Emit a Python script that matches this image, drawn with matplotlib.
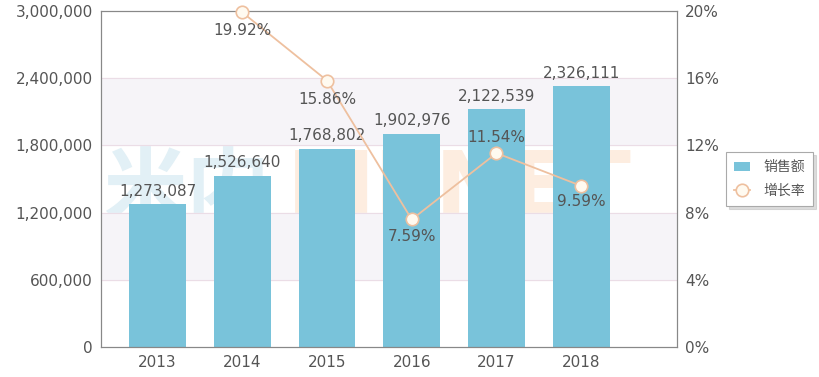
import matplotlib.pyplot as plt
from matplotlib.ticker import FuncFormatter

years = ['2013', '2014', '2015', '2016', '2017', '2018']
sales = [1273087, 1526640, 1768802, 1902976, 2122539, 2326111]
growth_years = [1, 2, 3, 4, 5]
growth = [19.92, 15.86, 7.59, 11.54, 9.59]

plt.rcParams['font.family'] = ['DejaVu Sans', 'Noto Sans CJK SC']
text_color = '#555555'
bar_color = '#79C3DA'
line_color = '#EEC09F'

fig = plt.figure(figsize=(8.2, 3.77), dpi=100)
ax = fig.add_axes([101 / 820, 30 / 377, 576 / 820, 336 / 377])
ax2 = ax.twinx()

ax.set_zorder(1)
ax2.set_zorder(2)
ax.patch.set_visible(False)

x = list(range(len(years)))
ax.set_xlim(-0.667, 6.13)
ax.set_ylim(0, 3000000)
ax2.set_ylim(0, 20)

# alternating bands and grid
for lo, hi in [(600000, 1200000), (1800000, 2400000)]:
    ax.axhspan(lo, hi, color='#F6F4F8', zorder=0)
for v in [600000, 1200000, 1800000, 2400000]:
    ax.axhline(v, color='#EBDDE6', lw=0.8, zorder=0.5)

bars = ax.bar(x, sales, width=0.67, color=bar_color, zorder=2, label='销售额')
for xi, v in zip(x, sales):
    ax.annotate(f'{v:,}', (xi, v), xytext=(0, 4), textcoords='offset points',
                ha='center', va='bottom', fontsize=11, color=text_color, zorder=3)

# faint watermark behind the bars
fig.text(270 / 820, 1 - 190 / 377, '米内', fontsize=60, color='#E2F0F6',
         ha='right', va='center', family=['Noto Sans CJK SC'], weight='bold', zorder=0.5)
fig.text(287 / 820, 1 - 190 / 377, 'MENET', fontsize=64, color='#FDEDE0',
         ha='left', va='center', weight='bold', zorder=0.5)

ax2.plot(growth_years, growth, color=line_color, lw=1.3, marker='o', ms=9,
         mfc='#FFFAF0', mec=line_color, mew=1.2, label='增长率', clip_on=False, zorder=4)
offsets = [(0, -8, 'top'), (0, -8, 'top'), (0, -7, 'top'), (0, 6, 'bottom'), (0, -6, 'top')]
for xi, v, (dx, dy, va) in zip(growth_years, growth, offsets):
    ax2.annotate(f'{v:.2f}%', (xi, v), xytext=(dx, dy), textcoords='offset points',
                 ha='center', va=va, fontsize=11, color=text_color, zorder=5)

ax.set_xticks(x)
ax.set_xticklabels(years)
ax.set_yticks([0, 600000, 1200000, 1800000, 2400000, 3000000])
ax.yaxis.set_major_formatter(FuncFormatter(lambda v, p: f'{int(v):,}'))
ax2.set_yticks([0, 4, 8, 12, 16, 20])
ax2.yaxis.set_major_formatter(FuncFormatter(lambda v, p: f'{int(v)}%'))

for a in (ax, ax2):
    for s in a.spines.values():
        s.set_color('#888888')
        s.set_linewidth(0.8)
    a.tick_params(colors=text_color, labelsize=11, length=0, pad=6)

h1, l1 = ax.get_legend_handles_labels()
h2, l2 = ax2.get_legend_handles_labels()
leg = fig.legend(h1 + h2, l1 + l2, loc='upper left', bbox_to_anchor=(726 / 820, 1 - 152 / 377),
                 fontsize=10, frameon=True, fancybox=False, edgecolor='#AAAAAA',
                 shadow={'color': '#BBBBBB', 'alpha': 0.5, 'ox': 2, 'oy': -2},
                 handlelength=1.1, handletextpad=1.0, borderpad=0.6, labelspacing=0.7,
                 borderaxespad=0)
leg.get_frame().set_linewidth(0.8)
for t in leg.get_texts():
    t.set_color(text_color)
    t.set_family(['Noto Sans CJK SC'])

fig.savefig('out.png', dpi=100)
